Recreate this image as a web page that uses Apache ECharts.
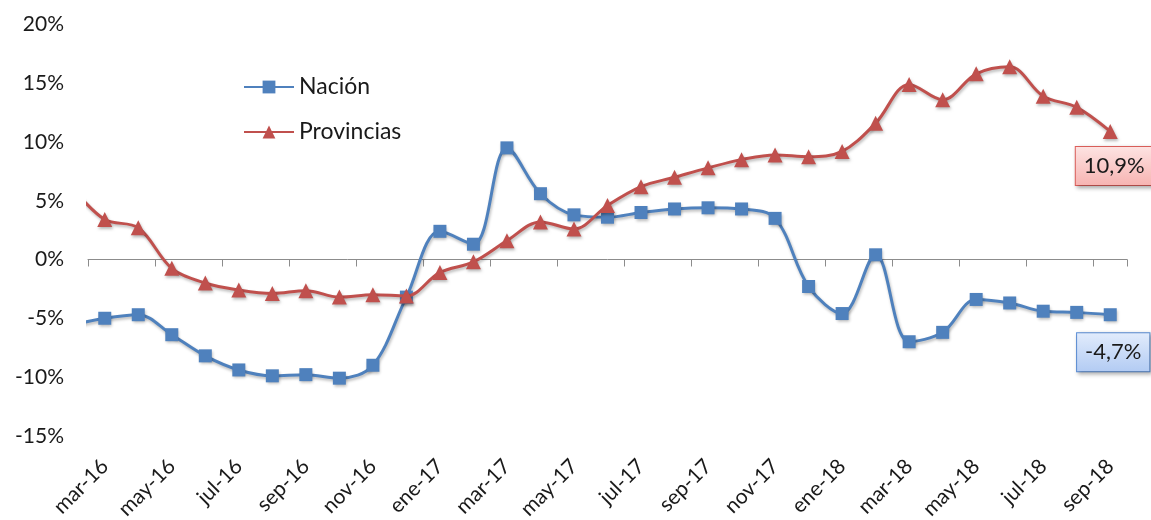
<!DOCTYPE html>
<html>
<head>
<meta charset="utf-8">
<script src="https://cdn.jsdelivr.net/npm/echarts@6/dist/echarts.min.js"></script>
<style>
  html, body { margin: 0; padding: 0; background: #fff; }
  #chart { width: 1151px; height: 520px; }
</style>
</head>
<body>
<div id="chart"></div>
<script>
// Monthly categories (mar-16 .. sep-18)
const months = ['mar-16','abr-16','may-16','jun-16','jul-16','ago-16','sep-16','oct-16','nov-16','dic-16',
  'ene-17','feb-17','mar-17','abr-17','may-17','jun-17','jul-17','ago-17','sep-17','oct-17','nov-17','dic-17',
  'ene-18','feb-18','mar-18','abr-18','may-18','jun-18','jul-18','ago-18','sep-18'];
// value of the month before the first category (feb-16), only its line stub is visible
const prevMonth = 'feb-16';
const nacionPrev = -5.6;
const provinciasPrev = 6.2;
const nacion = [-5.0,-4.7,-6.4,-8.2,-9.4,-9.9,-9.8,-10.1,-9.0,-3.2,
  2.4,1.3,9.5,5.6,3.8,3.6,4.0,4.3,4.4,4.3,3.5,-2.3,
  -4.6,0.4,-7.0,-6.2,-3.4,-3.7,-4.4,-4.5,-4.7];
const provincias = [3.4,2.7,-0.75,-2.0,-2.6,-2.9,-2.65,-3.2,-3.0,-3.1,
  -1.1,-0.2,1.6,3.2,2.6,4.6,6.2,7.0,7.8,8.5,8.9,8.75,
  9.2,11.6,14.9,13.6,15.8,16.4,13.9,12.95,10.9];
const yTicks = { min: -15, max: 20, step: 5 };

const FONT = 'Lato, "Open Sans", sans-serif';
const TXT = '#1a1a1a';
const BLUE = '#4F81BD';
const RED = '#C0504D';

function fmt(v) { return v.toFixed(1).replace('.', ',') + '%'; }

function buildPoints(prev, vals, labelStyle) {
  const all = [prev].concat(vals);
  return all.map(function (v, i) {
    const item = { value: [i - 1, v] };
    if (i === all.length - 1) item.label = labelStyle;
    return item;
  });
}

const lineShadow = { shadowColor: 'rgba(0,0,0,0.28)', shadowBlur: 3, shadowOffsetX: 1, shadowOffsetY: 2 };

const provLabel = {
  show: true, position: 'bottom', distance: 8, offset: [4, 0],
  formatter: function (p) { return fmt(p.value[1]); },
  fontFamily: FONT, fontSize: 22, color: TXT, lineHeight: 24,
  padding: [7, 8, 7, 8],
  backgroundColor: new echarts.graphic.LinearGradient(0, 0, 0, 1, [
    { offset: 0, color: '#fde4e3' }, { offset: 1, color: '#f7b3b1' }]),
  borderColor: '#e0605c', borderWidth: 1,
  shadowColor: 'rgba(0,0,0,0.3)', shadowBlur: 4, shadowOffsetX: 2, shadowOffsetY: 2
};
const nacLabel = {
  show: true, position: 'bottom', distance: 12, offset: [3, 0],
  formatter: function (p) { return fmt(p.value[1]); },
  fontFamily: FONT, fontSize: 22, color: TXT, lineHeight: 24,
  padding: [7, 8, 7, 8],
  backgroundColor: new echarts.graphic.LinearGradient(0, 0, 0, 1, [
    { offset: 0, color: '#e2ecfc' }, { offset: 1, color: '#b2cbf3' }]),
  borderColor: '#5b8fd8', borderWidth: 1,
  shadowColor: 'rgba(0,0,0,0.3)', shadowBlur: 4, shadowOffsetX: 2, shadowOffsetY: 2
};

const chart = echarts.init(document.getElementById('chart'), null, { renderer: 'canvas' });
chart.setOption({
  backgroundColor: '#ffffff',
  animation: false,
  textStyle: { fontFamily: FONT },
  grid: { left: 88, right: 24, top: 24.5, bottom: 84.25, containLabel: false, outerBoundsMode: 'none' },
  legend: {
    data: ['Nación', 'Provincias'],
    orient: 'vertical', left: 243, top: 75, padding: 0,
    itemWidth: 50, itemHeight: 16, itemGap: 21,
    textStyle: { fontFamily: FONT, fontSize: 23, color: TXT, lineHeight: 24 }
  },
  xAxis: [
    { // labels at bottom
      type: 'category', data: months, boundaryGap: true, position: 'bottom',
      axisLine: { show: false, onZero: false }, axisTick: { show: false },
      axisLabel: { interval: 1, rotate: 45, margin: 27, fontFamily: FONT, fontSize: 21, color: TXT },
      splitLine: { show: false }
    },
    { // zero line with ticks
      type: 'category', data: months, boundaryGap: true, position: 'bottom',
      axisLine: { show: true, onZero: true, lineStyle: { color: '#8c8c8c', width: 1 } },
      axisTick: { show: true, interval: 1, length: 7, inside: false, lineStyle: { color: '#8c8c8c', width: 1 } },
      axisLabel: { show: false }, splitLine: { show: false }
    },
    { // hidden numeric axis for plotting (index -1 = feb-16)
      type: 'value', min: -0.5, max: 30.5, show: false, splitLine: { show: false }
    }
  ],
  yAxis: {
    type: 'value', min: yTicks.min, max: yTicks.max, interval: yTicks.step,
    axisLine: { show: false }, axisTick: { show: false }, splitLine: { show: false },
    axisLabel: { formatter: '{value}%', margin: 24, fontFamily: FONT, fontSize: 21, color: TXT }
  },
  series: [
    {
      name: 'Nación', type: 'line', xAxisIndex: 2, smooth: 0.35, clip: true,
      data: buildPoints(nacionPrev, nacion, nacLabel),
      symbol: 'rect', symbolSize: 13,
      lineStyle: Object.assign({ color: BLUE, width: 3 }, lineShadow),
      itemStyle: Object.assign({ color: BLUE }, lineShadow),
      z: 3
    },
    {
      name: 'Provincias', type: 'line', xAxisIndex: 2, smooth: 0.35, clip: true,
      data: buildPoints(provinciasPrev, provincias, provLabel),
      symbol: 'triangle', symbolSize: 15,
      lineStyle: Object.assign({ color: RED, width: 3 }, lineShadow),
      itemStyle: Object.assign({ color: RED }, lineShadow),
      z: 4
    }
  ]
});
</script>
</body>
</html>
